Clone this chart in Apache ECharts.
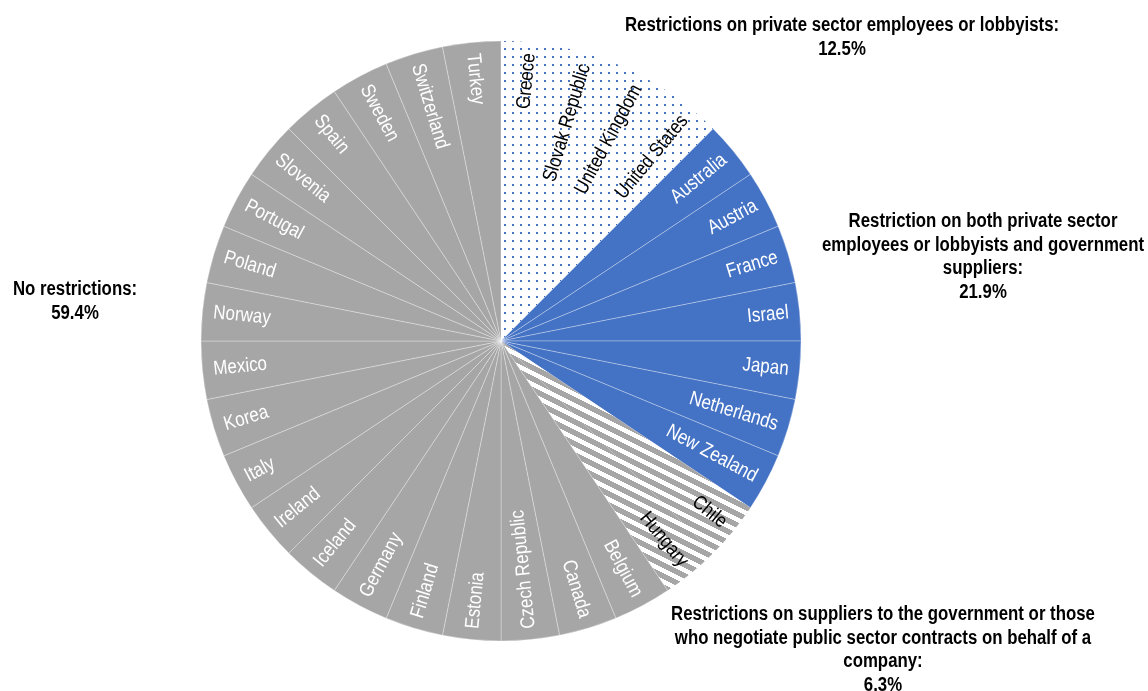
<!DOCTYPE html>
<html>
<head>
<meta charset="utf-8">
<script src="https://cdn.jsdelivr.net/npm/echarts@6/dist/echarts.min.js"></script>
<style>
  html, body { margin: 0; padding: 0; background: #ffffff; }
  #chart { width: 1148px; height: 691px; }
</style>
</head>
<body>
<div id="chart"></div>
<script>
// Countries grouped by the kind of post-employment restriction; every country is one slice.
const privateSectorOnly = ['Greece', 'Slovak Republic', 'United Kingdom', 'United States'];
const bothRestrictions = ['Australia', 'Austria', 'France', 'Israel', 'Japan', 'Netherlands', 'New Zealand'];
const supplierRestrictions = ['Chile', 'Hungary'];
const noRestrictions = ['Belgium', 'Canada', 'Czech Republic', 'Estonia', 'Finland', 'Germany', 'Iceland',
  'Ireland', 'Italy', 'Korea', 'Mexico', 'Norway', 'Poland', 'Portugal', 'Slovenia', 'Spain', 'Sweden',
  'Switzerland', 'Turkey'];
const countryWeight = 1;

// Group captions (the share is appended from the counts above)
const privateSectorTitle = ['Restrictions on private sector employees or lobbyists:'];
const bothTitle = ['Restriction on both private sector', 'employees or lobbyists and government', 'suppliers:'];
const supplierTitle = ['Restrictions on suppliers to the government or those',
  'who negotiate public sector contracts on behalf of a', 'company:'];
const noneTitle = ['No restrictions:'];

const SANS = '"Liberation Sans", Arial, sans-serif';
const NARROW_SCALE = 0.85;      // horizontal squeeze giving a narrow face
const BLUE = '#4472C4';
const GREY = '#A6A6A6';
const CENTER = [501, 341];
const RADIUS = 300;
const LABEL_END = 289;          // labels finish just inside the rim

function dotPattern() {
  const s = 16;
  const c = document.createElement('canvas');
  c.width = s; c.height = s;
  const g = c.getContext('2d');
  g.fillStyle = '#ffffff';
  g.fillRect(0, 0, s, s);
  g.fillStyle = BLUE;
  [[0, 0], [8, 0], [0, 8], [8, 8]].forEach(([x, y]) => g.fillRect(x, y, 2, 2));
  return c;
}

function stripePattern() {
  const w = 22, h = 11;
  const c = document.createElement('canvas');
  c.width = w; c.height = h;
  const g = c.getContext('2d');
  const img = g.createImageData(w, h);
  for (let y = 0; y < h; y++) {
    for (let x = 0; x < w; x++) {
      const v = ((y - Math.floor(x / 2)) % h + h) % h;
      const shade = v < 6 ? 166 : 255;
      const i = (y * w + x) * 4;
      img.data[i] = shade; img.data[i + 1] = shade; img.data[i + 2] = shade; img.data[i + 3] = 255;
    }
  }
  g.putImageData(img, 0, 0);
  return c;
}

const groups = [
  { names: privateSectorOnly, fill: { image: dotPattern(), repeat: 'repeat' }, text: '#000000', border: 0 },
  { names: bothRestrictions, fill: BLUE, text: '#ffffff', border: 0.8 },
  { names: supplierRestrictions, fill: { image: stripePattern(), repeat: 'repeat' }, text: '#000000', border: 0 },
  { names: noRestrictions, fill: GREY, text: '#ffffff', border: 0.8 }
];

const countries = [];
const labelColors = [];
const pieData = [];
groups.forEach(grp => {
  grp.names.forEach(name => {
    countries.push(name);
    labelColors.push(grp.text);
    pieData.push({
      name: name,
      value: countryWeight,
      itemStyle: {
        color: grp.fill,
        borderColor: 'rgba(255,255,255,0.38)',
        borderWidth: grp.border
      }
    });
  });
});
const total = countries.length * countryWeight;

// Labels on slices ending at or past 6 o'clock read from the rim toward the centre.
const labelInward = countries.map((c, i) => (i + 1) / countries.length * 360 >= 180);

function share(list) {
  return (list.length * countryWeight / total * 100).toFixed(1) + '%';
}

function caption(lines, list, x, y) {
  return {
    type: 'text',
    x: x,
    y: y,
    scaleX: 0.84,
    silent: true,
    style: {
      text: lines.concat([share(list)]).join('\n'),
      fill: '#000000',
      font: 'bold 20px ' + SANS,
      lineHeight: 23.5,
      align: 'center',
      verticalAlign: 'top'
    }
  };
}

const chart = echarts.init(document.getElementById('chart'), null, { renderer: 'canvas' });
chart.setOption({
  animation: false,
  backgroundColor: '#ffffff',
  polar: { center: CENTER, radius: RADIUS },
  angleAxis: {
    type: 'category',
    data: countries,
    startAngle: 90,
    clockwise: true,
    boundaryGap: true,
    show: false
  },
  radiusAxis: { type: 'value', min: 0, max: RADIUS, show: false },
  series: [
    {
      type: 'pie',
      center: CENTER,
      radius: RADIUS,
      startAngle: 90,
      clockwise: true,
      silent: true,
      label: { show: false },
      labelLine: { show: false },
      emphasis: { disabled: true },
      data: pieData
    },
    {
      // country names laid along each slice's radius
      type: 'custom',
      coordinateSystem: 'polar',
      silent: true,
      z: 5,
      data: countries.map(name => [LABEL_END, name]),
      renderItem: function (params, api) {
        const i = params.dataIndex;
        const pt = api.coord([api.value(0), api.value(1)]);
        const cs = params.coordSys;
        const ang = Math.atan2(pt[1] - cs.cy, pt[0] - cs.cx);
        const inward = labelInward[i];
        return {
          type: 'text',
          x: pt[0],
          y: pt[1],
          rotation: inward ? Math.PI - ang : -ang,
          scaleX: NARROW_SCALE,
          style: {
            text: countries[i],
            fill: labelColors[i],
            font: '20px ' + SANS,
            align: inward ? 'left' : 'right',
            verticalAlign: 'middle'
          }
        };
      }
    }
  ],
  graphic: [
    caption(privateSectorTitle, privateSectorOnly, 842, 14),
    caption(bothTitle, bothRestrictions, 983, 210),
    caption(supplierTitle, supplierRestrictions, 883, 603),
    caption(noneTitle, noRestrictions, 75, 278)
  ]
});
</script>
</body>
</html>
